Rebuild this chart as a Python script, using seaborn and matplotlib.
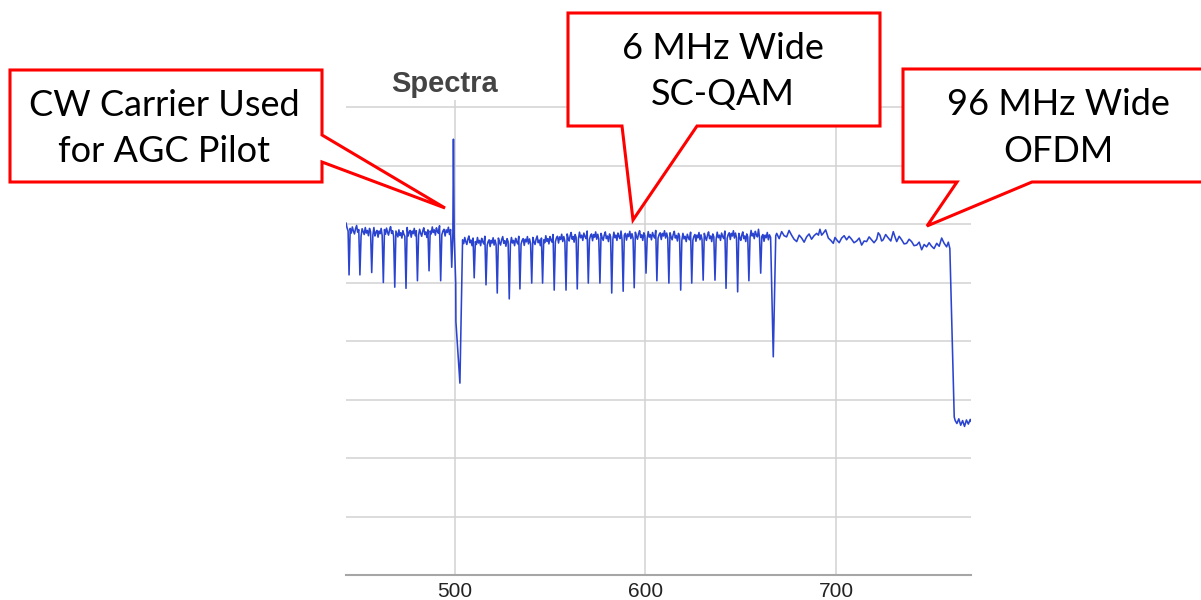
import matplotlib
matplotlib.use("Agg")
import matplotlib.pyplot as plt
from matplotlib.patches import Polygon
import pandas as pd
import seaborn as sns

# ---------------- spectrum data (frequency in MHz, level in dB) ----------------
# band edge at the left border
edge_freq = [442.8, 443.3, 443.9]
edge_level = [-19.8, -20.6, -21.2]

# notches between adjacent 6 MHz SC-QAM channels: centre frequency and floor level
notch_freq = [444.4, 450.1, 456.3, 462.4, 468.4, 474.3, 480.3, 486.4, 492.5, 498.3,
              510.1, 516.3, 522.2, 528.5, 534.1, 540.3, 546.0, 552.1, 558.3, 564.2,
              570.0, 576.1, 582.3, 588.3, 594.1, 600.3, 606.0, 612.3, 618.5, 624.3,
              630.3, 636.5, 642.3, 648.4, 654.3, 660.5]
notch_level = [-28.7, -28.7, -28.3, -30.0, -30.8, -31.0, -29.7, -28.0, -29.7, -27.4,
               -29.2, -30.4, -31.8, -32.8, -31.1, -30.1, -30.1, -31.3, -31.3, -31.1,
               -30.1, -30.1, -31.8, -31.5, -30.9, -28.4, -29.7, -30.1, -31.3, -30.1,
               -29.6, -29.6, -31.0, -31.6, -29.7, -28.4]

# CW AGC pilot carrier and the notch just above it
cw_freq = [498.9, 499.2, 499.6, 500.4, 500.5, 502.6, 504.0]
cw_level = [-21.6, -5.5, -22.0, -30.1, -36.7, -47.2, -22.7]

# guard notch in front of the OFDM block
gap_freq = [665.7, 667.1, 668.4]
gap_level = [-22.3, -42.7, -22.0]

# mean top level of each SC-QAM channel, in frequency order
chan_top = [-21.2, -21.4, -21.6, -21.4, -21.8, -21.6, -21.6, -21.3, -21.4,
            -23.0,
            -23.1, -23.2, -23.1, -23.1, -23.0, -23.0, -22.8, -22.6, -22.4, -22.2,
            -22.2, -22.3, -22.2, -22.1, -22.1, -22.1, -22.0, -22.2, -22.4, -22.3,
            -22.3, -22.2, -22.0, -22.3, -21.9,
            -22.3]

# in-channel ripple (dB) riding on the channel tops
ripple_db = [0.45, -0.35, 0.7, 0.0, -0.5, 0.4, 0.95, -0.2, 0.25, -0.7, 0.6, 0.1,
             -0.4, 0.8, -0.15, 0.3, -0.6, 0.65, 0.05, -0.3, 1.0, -0.45, 0.2, 0.5,
             -0.65, 0.4, -0.05, 0.85, -0.4]

# 96 MHz wide OFDM block
ofdm_freq = [668.9, 670.2, 671.5, 672.8, 674.1, 675.4, 676.7, 678.0, 679.4, 680.7,
             682.0, 683.3, 684.6, 685.9, 687.2, 688.5, 689.9, 690.8, 691.6, 692.5,
             693.3, 694.6, 696.0, 697.3, 698.6, 699.5, 700.4, 701.7, 703.0, 704.3,
             705.6, 706.9, 708.2, 709.5, 710.9, 712.2, 713.5, 714.8, 716.1, 717.4,
             718.7, 720.0, 721.4, 722.2, 723.1, 724.0, 724.8, 726.1, 727.5, 728.8,
             730.1, 731.0, 731.9, 733.2, 734.5, 735.8, 737.1, 738.4, 739.7, 741.0,
             742.4, 743.7, 745.0, 746.3, 747.6, 748.9, 750.2, 751.5, 752.9, 754.2,
             755.5, 756.8, 758.1, 759.0, 759.8]
ofdm_level = [-21.6, -22.5, -21.3, -22.0, -22.2, -21.1, -21.9, -22.6, -23.0, -21.9,
              -22.4, -23.1, -22.2, -21.7, -22.6, -22.0, -21.6, -21.9, -20.9, -21.9,
              -21.6, -21.0, -22.4, -22.8, -23.3, -22.3, -22.7, -23.2, -22.4, -22.0,
              -22.7, -22.1, -22.6, -23.2, -22.9, -22.4, -23.6, -22.9, -23.0, -22.2,
              -22.7, -23.2, -22.6, -21.5, -21.9, -22.9, -22.7, -21.8, -22.4, -22.9,
              -21.3, -22.2, -23.0, -22.1, -22.7, -23.4, -23.3, -22.6, -23.0, -23.7,
              -23.6, -23.1, -24.4, -23.5, -23.9, -23.2, -23.8, -24.2, -23.3, -23.8,
              -22.4, -23.3, -23.9, -23.1, -24.2]

# roll-off and noise floor above the OFDM block
floor_freq = [762.1, 762.6, 763.5, 764.5, 765.5, 766.5, 767.5, 768.5, 769.5, 770.5, 771.0]
floor_level = [-53.0, -53.6, -54.1, -53.3, -54.4, -53.6, -54.6, -53.5, -54.2, -53.4, -53.8]

tick_values = [500, 600, 700]
grid_levels = list(range(-80, 1, 10))

# ---------------- assemble the trace ----------------
blocks = [[(f, l)] for f, l in zip(notch_freq, notch_level)]
blocks.append(list(zip(cw_freq, cw_level)))
blocks.append(list(zip(gap_freq, gap_level)))
blocks.sort(key=lambda b: b[0][0])

freq, level = list(edge_freq), list(edge_level)
k = 0          # channel counter
r = 0          # ripple position
for i, block in enumerate(blocks):
    for f, l in block:
        freq.append(f)
        level.append(l)
    if i + 1 == len(blocks):
        break
    f0 = block[-1][0]
    f1 = blocks[i + 1][0][0]
    span = f1 - f0
    if span < 1.5:
        continue
    top = chan_top[k]
    k += 1
    n = int(round((span - 1.2) / 0.55)) + 1
    for j in range(n):
        freq.append(f0 + 0.6 + j * (span - 1.2) / (n - 1))
        level.append(top + ripple_db[r % len(ripple_db)])
        r += 1

freq += ofdm_freq + floor_freq
level += ofdm_level + floor_level
spectrum = pd.DataFrame({"freq": freq, "level": level})

# ---------------- figure ----------------
sns.set_theme(style="white")
plt.rcParams["font.family"] = ["Liberation Sans", "DejaVu Sans"]

W, H = 1201, 600
fig = plt.figure(figsize=(W / 100, H / 100), dpi=100)
fig.patch.set_facecolor("white")


def fx(px):
    return px / W


def fy(py):
    return 1 - py / H


ax = fig.add_axes([fx(346), fy(575), fx(971) - fx(346), fy(100) - fy(575)])
ax.set_facecolor("white")

sns.lineplot(data=spectrum, x="freq", y="level", estimator=None, sort=False,
             color="#2b44cf", linewidth=1.15, ax=ax)

ax.set_xlim(442.8, 770.9)
ax.set_ylim(-80, 1.2)
ax.set_xticks(tick_values)
ax.set_xticklabels([str(t) for t in tick_values])
ax.set_yticks(grid_levels)
ax.tick_params(axis="y", length=0, labelleft=False)
ax.tick_params(axis="x", length=0, pad=5, labelsize=15, labelcolor="#222222")
ax.set_xlabel("")
ax.set_ylabel("")
ax.grid(True, color="#d2d2d2", linewidth=1.1)
ax.set_axisbelow(True)
for side in ("left", "right", "top"):
    ax.spines[side].set_visible(False)
ax.spines["bottom"].set_color("#a6a6a6")
ax.spines["bottom"].set_linewidth(1.5)

fig.text(fx(445), fy(91.5), "Spectra", ha="center", va="baseline",
         fontsize=21, fontweight="bold", color="#444444")

# ---------------- callouts ----------------
callouts = [
    {
        "shape": [(10, 70), (322, 70), (322, 135), (445, 208), (322, 162),
                  (322, 182), (10, 182)],
        "lines": [("CW Carrier Used", 164, 116), ("for AGC Pilot", 164, 162)],
    },
    {
        "shape": [(568, 13), (880, 13), (880, 126), (697, 126), (633, 220),
                  (622, 126), (568, 126)],
        "lines": [("6 MHz Wide", 723, 59), ("SC-QAM", 723, 105)],
    },
    {
        "shape": [(903, 69), (1215, 69), (1215, 182), (1032, 182), (927, 226),
                  (957, 182), (903, 182)],
        "lines": [("96 MHz Wide", 1058, 115), ("OFDM", 1058, 162)],
    },
]

for c in callouts:
    poly = Polygon([(fx(x), fy(y)) for x, y in c["shape"]], closed=True,
                   transform=fig.transFigure, facecolor="white", edgecolor="#ff0000",
                   linewidth=2.2, joinstyle="miter", zorder=10)
    fig.add_artist(poly)
    for txt, x, y in c["lines"]:
        fig.text(fx(x), fy(y), txt, ha="center", va="baseline", fontsize=26,
                 family=["Lato", "DejaVu Sans"], color="black", zorder=11)

fig.savefig("out.png", dpi=100, facecolor="white")
